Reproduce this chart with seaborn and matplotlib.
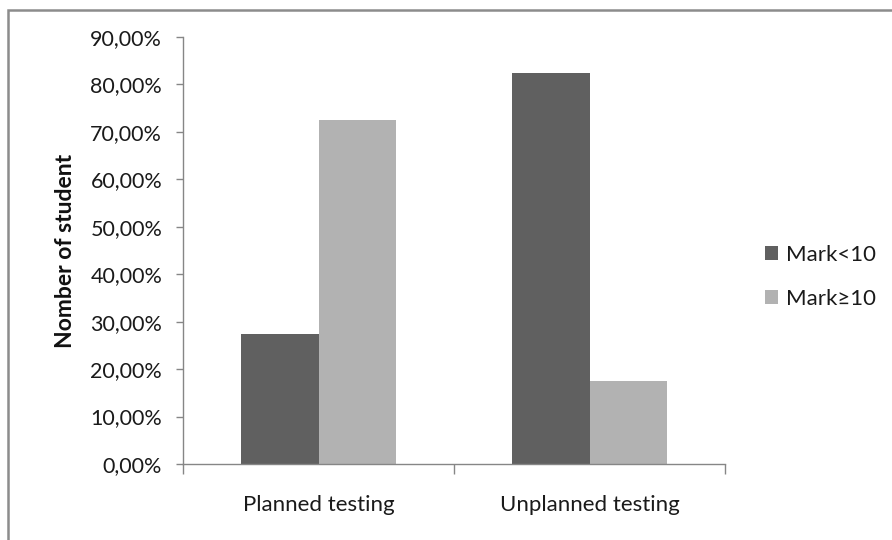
import pandas as pd
import matplotlib.pyplot as plt
import seaborn as sns
from matplotlib.patches import Patch, Rectangle
from matplotlib.ticker import FuncFormatter

categories = ['Planned testing', 'Unplanned testing']
series = ['Mark<10', 'Mark≥10']
mark_below_10 = [27.5, 82.5]
mark_above_10 = [72.5, 17.5]
colors = ['#606060', '#b2b2b2']

df = pd.DataFrame({
    'testing': categories * 2,
    'mark': [series[0]] * 2 + [series[1]] * 2,
    'pct': mark_below_10 + mark_above_10,
})

sns.set_style('white')
plt.rcParams['font.family'] = ['Lato', 'DejaVu Sans']

fig = plt.figure(figsize=(8.92, 5.4), dpi=100)
ax = fig.add_axes([183 / 892, 1 - 464 / 540, (725 - 183) / 892, (464 - 37) / 540])

sns.barplot(data=df, x='testing', y='pct', hue='mark', hue_order=series,
            palette=colors, width=0.575, saturation=1, linewidth=0, ax=ax,
            legend=False)

ax.set_xlim(-0.5, 1.5)
ax.set_ylim(0, 90)
ax.set_yticks(range(0, 91, 10))
ax.yaxis.set_major_formatter(FuncFormatter(lambda v, p: f'{v:.2f}%'.replace('.', ',')))
ax.set_xticks([-0.5, 0.5, 1.5], minor=True)
ax.tick_params(axis='x', which='major', length=0, pad=22, labelsize=16, labelcolor='#1a1a1a')
ax.tick_params(axis='x', which='minor', length=7, width=1, color='#868686', direction='out', bottom=True)
ax.tick_params(axis='y', length=5, width=1, color='#868686', direction='out', left=True,
               labelsize=15.5, labelcolor='#1a1a1a', pad=10)
ax.set_xlabel('')
ax.set_ylabel('Nomber of student', fontsize=16.5, fontweight='bold', labelpad=10, color='#111111')

for s in ['top', 'right']:
    ax.spines[s].set_visible(False)
for s in ['left', 'bottom']:
    ax.spines[s].set_color('#868686')
    ax.spines[s].set_linewidth(1)

handles = [Patch(facecolor=c, edgecolor='none', label=l) for c, l in zip(colors, series)]
fig.legend(handles=handles, loc='center left', bbox_to_anchor=(745 / 892, 1 - 277 / 540),
           frameon=False, fontsize=16, handlelength=0.6, handleheight=0.6,
           handletextpad=0.35, labelspacing=1.1, labelcolor='#1a1a1a')

fig.patches.append(Rectangle((8 / 892, -0.1), 1.2, 1.1 - 10 / 540, transform=fig.transFigure,
                             fill=False, edgecolor='#8c8c8c', linewidth=1.8))

fig.savefig('out.png', dpi=100)
